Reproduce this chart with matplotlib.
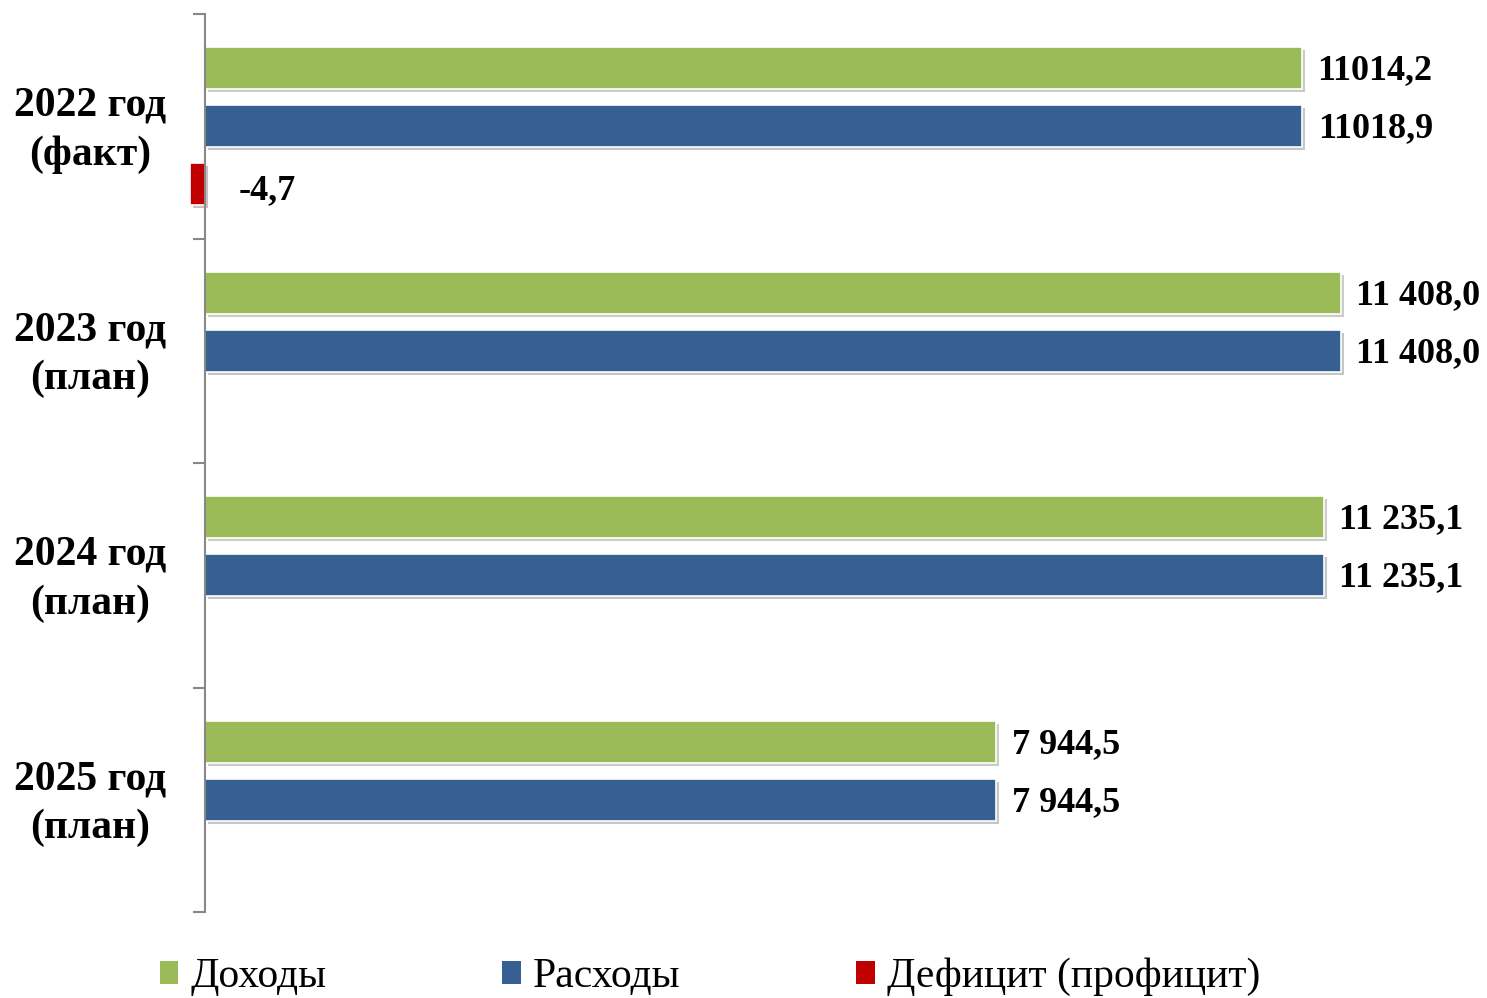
import matplotlib
matplotlib.use("Agg")
import matplotlib.pyplot as plt
import matplotlib.patheffects as pe
import matplotlib.transforms as mtransforms
from matplotlib.patches import Patch
import numpy as np

categories = ["2022 год\n(факт)", "2023 год\n(план)", "2024 год\n(план)", "2025 год\n(план)"]
income = [11014.2, 11408.0, 11235.1, 7944.5]
expenses = [11018.9, 11408.0, 11235.1, 7944.5]
deficit = [-4.7, 0.0, 0.0, 0.0]
income_labels = ["11014,2", "11 408,0", "11 235,1", "7 944,5"]
expense_labels = ["11018,9", "11 408,0", "11 235,1", "7 944,5"]
deficit_labels = ["-4,7", "", "", ""]
series_names = ["Доходы", "Расходы", "Дефицит (профицит)"]
colors = ["#9BBB59", "#376092", "#C00000"]

plt.rcParams['font.family'] = ['Liberation Serif', 'DejaVu Serif']

W, H = 1487, 998
fig = plt.figure(figsize=(W / 100, H / 100), dpi=100)
ax = fig.add_axes([205 / W, 1 - 912 / H, (W - 205) / W, 898 / H])

px_per_unit = 1097 / 11014.2
xmax = (W - 205) / px_per_unit
ax.set_xlim(0, xmax)
ax.set_ylim(len(categories) - 0.5, -0.5)

y = np.arange(len(categories))
off = 0.258
h = 0.187
shadow = [pe.SimplePatchShadow(offset=(2, -2), alpha=0.25), pe.Normal()]

# minimum visible length for very small bars
min_len = 15 / px_per_unit
def vis(v):
    if v == 0:
        return 0
    return np.sign(v) * max(abs(v), min_len)

for vals, labels, col, dy, name in [
    (income, income_labels, colors[0], -off, series_names[0]),
    (expenses, expense_labels, colors[1], 0, series_names[1]),
    (deficit, deficit_labels, colors[2], off, series_names[2]),
]:
    bars = ax.barh(y + dy, [vis(v) for v in vals], height=h, color=col,
                   edgecolor="white", linewidth=1.2, clip_on=False)
    for b in bars:
        b.set_path_effects(shadow)
    for yi, v, lab in zip(y, vals, labels):
        if not lab:
            continue
        if v > 0:
            xo, yo = 11, -2
        else:
            xo, yo = 24, -5
        ax.annotate(lab, xy=(max(v, 0), yi + dy), xytext=(xo, yo),
                    textcoords="offset points", va="center", ha="left",
                    fontsize=26, fontweight="bold", color="black")

for s in ["top", "right", "bottom"]:
    ax.spines[s].set_visible(False)
ax.spines["left"].set_color("#888888")
ax.spines["left"].set_linewidth(1.5)
ax.set_xticks([])
ax.set_yticks(y)
ax.set_yticklabels(categories, fontsize=30, fontweight="bold", ha="center",
                   multialignment="center", linespacing=1.35)
ax.tick_params(axis="y", which="major", length=0, pad=83)
shift = mtransforms.ScaledTranslation(0, 4 / 72, fig.dpi_scale_trans)
for lbl in ax.get_yticklabels():
    lbl.set_transform(lbl.get_transform() + shift)
ax.set_yticks(np.arange(-0.5, len(categories)), minor=True)
ax.tick_params(axis="y", which="minor", length=8.6, width=1.5, color="#888888",
               direction="out")
ax.patch.set_alpha(0)

handles = [Patch(facecolor=c, edgecolor="none") for c in colors]
fig.legend(handles, series_names, loc="center", bbox_to_anchor=(710 / W, 1 - 977 / H),
           ncol=3, frameon=False, fontsize=30, handlelength=0.45, handleheight=0.45,
           handletextpad=0.3, columnspacing=4.2, borderaxespad=0, borderpad=0)

fig.savefig("out.png", dpi=100)
